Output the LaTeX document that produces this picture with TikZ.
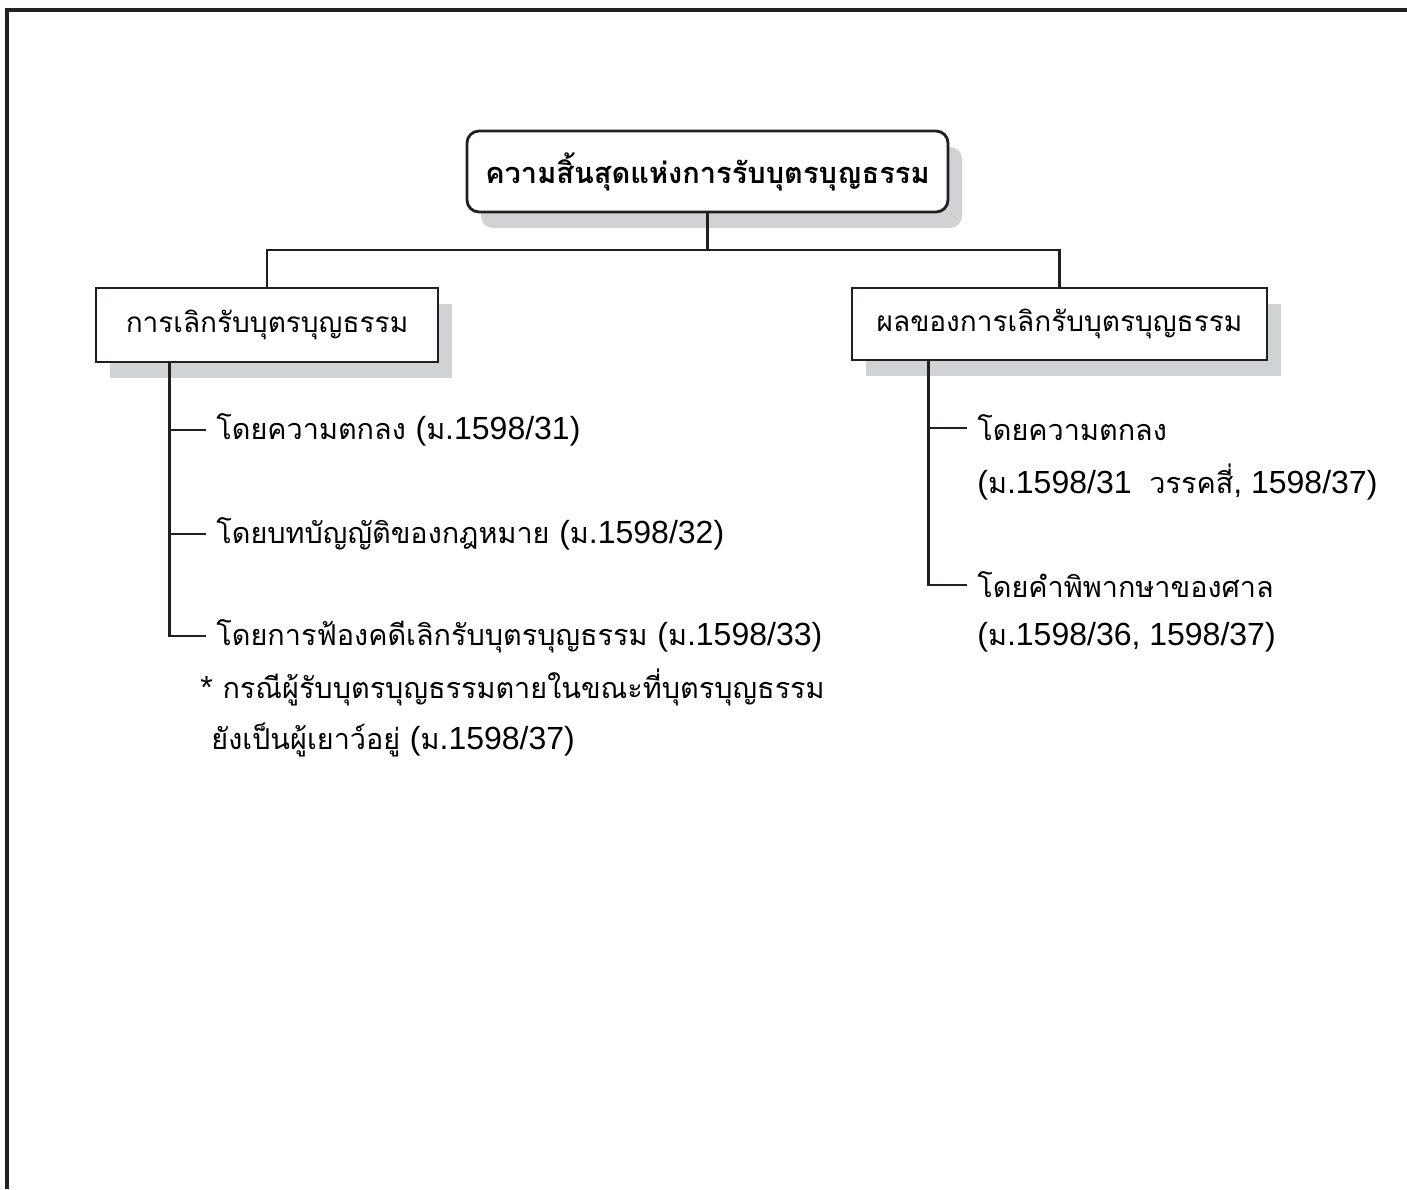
\documentclass[tikz,border=0pt]{standalone}
\usepackage{fontspec}
\setmainfont[Script=Thai]{Loma}
\newfontfamily\latfont{Liberation Sans}
\newcommand{\digs}[1]{{\latfont\fontsize{16}{18}\selectfont #1}}
\usetikzlibrary{shadows}
\definecolor{shadowgray}{HTML}{D1D2D4}
\definecolor{linegray}{HTML}{231F20}
\begin{document}
\begin{tikzpicture}[x=0.5pt,y=-0.5pt]
\tikzstyle{box}=[draw=linegray, line width=1.4pt, fill=white, inner sep=0pt,
  drop shadow={shadow xshift=7pt, shadow yshift=-8pt, fill=shadowgray, opacity=1}]
\tikzstyle{item}=[anchor=west, inner xsep=5pt, inner ysep=0pt, font=\fontsize{14.4}{16}\selectfont]
\tikzstyle{link}=[draw=linegray, line width=1.4pt]
\useasboundingbox (0,0) rectangle (1407,1189);
% frame
\draw[linegray, line width=2.2pt] (7,1189) -- (7,10) -- (1407,10);

% boxes
\node[box, rounded corners=6pt, minimum width=240.5pt, minimum height=40.5pt,
  font=\bfseries\fontsize{14.5}{17}\selectfont] (title) at (707.5,171.5) {ความสิ้นสุดแห่งการรับบุตรบุญธรรม};
\node[box, minimum width=171pt, minimum height=37pt,
  font=\fontsize{14}{16}\selectfont] (lbox) at (267,325) {การเลิกรับบุตรบุญธรรม};
\node[box, minimum width=207.5pt, minimum height=36pt,
  font=\fontsize{14}{16}\selectfont] (rbox) at (1059.5,324) {ผลของการเลิกรับบุตรบุญธรรม};

\coordinate (fork) at (707.5,250);
\draw[link] (title.south) -- (fork);
\draw[link] (lbox.north) -- (lbox.north |- fork) -- (rbox.north |- fork) -- (rbox.north);

% left items
\node[item] (l1) at (206,430) {โดยความตกลง \digs{(}ม\digs{.1598/31)}};
\node[item] (l2) at (206,534) {โดยบทบัญญัติของกฎหมาย \digs{(}ม\digs{.1598/32)}};
\node[item] (l3) at (206,636) {โดยการฟ้องคดีเลิกรับบุตรบุญธรรม \digs{(}ม\digs{.1598/33)}};
\node[item] (n1) at (190,687) {\digs{*}\ กรณีผู้รับบุตรบุญธรรมตายในขณะที่บุตรบุญธรรม};
\node[item] (n2) at (201,740) {ยังเป็นผู้เยาว์อยู่ \digs{(}ม\digs{.1598/37)}};
\coordinate (ltrunk) at ([xshift=37.5pt]lbox.south west);
\draw[link] (ltrunk) |- (l3.west);
\draw[link] (ltrunk |- l1.west) -- (l1.west);
\draw[link] (ltrunk |- l2.west) -- (l2.west);

% right items
\node[item] (r1) at (967,428) {โดยความตกลง};
\node[item] (r1b) at (967,482) {\digs{(}ม\digs{.1598/31\ \ }วรรคสี่\digs{, 1598/37)}};
\node[item] (r2) at (967,585) {โดยคำพิพากษาของศาล};
\node[item] (r2b) at (967,637) {\digs{(}ม\digs{.1598/36, 1598/37)}};
\coordinate (rtrunk) at ([xshift=39pt]rbox.south west);
\draw[link] (rtrunk) |- (r2.west);
\draw[link] (rtrunk |- r1.west) -- (r1.west);
\end{tikzpicture}
\end{document}
